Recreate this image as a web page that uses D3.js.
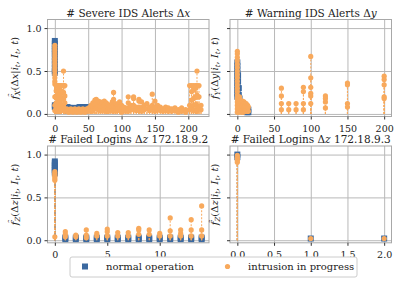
<!DOCTYPE html>
<html>
<head>
<meta charset="utf-8">
<script src="https://cdn.jsdelivr.net/npm/d3@7"></script>
<style>
  body { margin: 0; background: #fff; }
  text { font-family: "DejaVu Serif", "Liberation Serif", serif; fill: #222; }
</style>
</head>
<body>
<div id="chart"></div>
<script>

// ===============================
// Data (x value, list of probabilities seen over time)
// ===============================

const severeNormal = [
    [0, [0.85, 0.82, 0.79, 0.76, 0.73, 0.7, 0.66, 0.62, 0.58, 0.54, 0.5, 0.48, 0.1, 0.08]],
    [2, [0.1, 0.07]], [4, [0.09, 0.06]], [6, [0.08, 0.05]], [8, [0.08]], [10, [0.09, 0.06]],
    [13, [0.08]], [16, [0.07]], [19, [0.08]], [22, [0.07]], [25, [0.07]], [28, [0.07]],
    [31, [0.06]], [34, [0.07]], [37, [0.08]], [40, [0.08]], [43, [0.08]], [46, [0.08]], [49, [0.08]]
];

const severeIntrusion = [
    [0, [0.8, 0.77, 0.74, 0.71, 0.68, 0.65, 0.62, 0.59, 0.56, 0.53, 0.5, 0.46, 0.42, 0.38, 0.35, 0.2, 0.1, 0.04]],
    [2, [0.33, 0.27, 0.2, 0.13, 0.06]],
    [4, [0.33, 0.25, 0.18, 0.1, 0.04]],
    [6, [0.33, 0.29, 0.21, 0.14, 0.07]],
    [8, [0.33, 0.23, 0.15, 0.08, 0.03]],
    [10, [0.33, 0.27, 0.19, 0.11, 0.05]],
    [13, [0.5, 0.33, 0.25, 0.17, 0.09, 0.04]],
    [15, [0.33, 0.21, 0.13, 0.06]],
    [18, [0.06, 0.03]], [21, [0.05, 0.02]], [24, [0.06, 0.03]], [27, [0.05, 0.02]],
    [30, [0.06, 0.03]], [33, [0.05, 0.02]], [36, [0.06, 0.03]], [39, [0.05, 0.02]],
    [42, [0.06, 0.03]], [45, [0.05, 0.02]], [48, [0.06, 0.03]], [51, [0.07, 0.04]],
    [54, [0.1, 0.06, 0.03]], [57, [0.13, 0.08, 0.04]], [60, [0.16, 0.11, 0.06]],
    [62, [0.17, 0.12, 0.06]], [65, [0.15, 0.1, 0.05]], [68, [0.14, 0.09, 0.04]],
    [71, [0.13, 0.08, 0.04]], [74, [0.15, 0.1, 0.05]], [77, [0.13, 0.07, 0.03]],
    [80, [0.11, 0.06, 0.03]], [83, [0.09, 0.05]], [86, [0.14, 0.08, 0.04]],
    [88, [0.25, 0.17, 0.1, 0.05]], [91, [0.12, 0.06, 0.03]], [94, [0.1, 0.05]],
    [97, [0.14, 0.08, 0.04]], [100, [0.1, 0.05, 0.02]], [103, [0.08, 0.04]],
    [106, [0.07, 0.03]], [110, [0.2, 0.13, 0.07, 0.03]], [114, [0.1, 0.05]],
    [118, [0.2, 0.18, 0.1, 0.05]], [122, [0.08, 0.04]], [126, [0.17, 0.15, 0.08, 0.04]],
    [130, [0.14, 0.07, 0.03]], [134, [0.1, 0.05]], [138, [0.12, 0.06]],
    [142, [0.08, 0.04]], [146, [0.23, 0.1, 0.05]], [150, [0.15, 0.08, 0.03]],
    [154, [0.1, 0.05]], [158, [0.08, 0.04]], [162, [0.06, 0.03]], [166, [0.08, 0.04]],
    [170, [0.07, 0.03]], [175, [0.06, 0.03]], [180, [0.07, 0.04]], [185, [0.05, 0.02]],
    [190, [0.07, 0.03]], [196, [0.05, 0.02]], [202, [0.33, 0.1, 0.05]],
    [205, [0.33, 0.26, 0.16, 0.08]], [208, [0.33, 0.28, 0.18, 0.1, 0.04]],
    [211, [0.33, 0.3, 0.2, 0.11, 0.05]], [213, [0.5, 0.33, 0.22, 0.1, 0.04]],
    [216, [0.33, 0.2, 0.08]], [219, [0.1, 0.05]]
];

const warningNormal = [
    [0, [0.6, 0.56, 0.52, 0.48, 0.44, 0.4, 0.36, 0.32, 0.28, 0.24, 0.2]],
    [1, [0.45, 0.38, 0.3, 0.22]],
    [2, [0.3, 0.22, 0.15, 0.1]],
    [3, [0.18, 0.12, 0.06]],
    [5, [0.12, 0.06]], [7, [0.1, 0.05]], [9, [0.08, 0.03]],
    [11, [0.07, 0.03]], [13, [0.06, 0.02]], [15, [0.05, 0.02]]
];

const warningIntrusion = [
    [0, [0.73, 0.7, 0.66, 0.62, 0.58, 0.54, 0.5, 0.46, 0.42, 0.38, 0.34, 0.3, 0.26, 0.22, 0.18, 0.14, 0.1, 0.06, 0.02]],
    [1, [0.2, 0.14, 0.08, 0.03]], [2, [0.18, 0.12, 0.06, 0.02]], [3, [0.2, 0.15, 0.1, 0.05]],
    [4, [0.16, 0.1, 0.04]], [5, [0.14, 0.08, 0.03]], [6, [0.13, 0.07, 0.02]],
    [7, [0.15, 0.09, 0.04]], [8, [0.12, 0.06, 0.02]], [9, [0.14, 0.08, 0.03]],
    [10, [0.12, 0.06]], [11, [0.1, 0.05]], [12, [0.12, 0.06]], [13, [0.09, 0.04]],
    [14, [0.1, 0.05]], [15, [0.08, 0.03]],
    [60, [0.3, 0.21, 0.12, 0.05]],
    [70, [0.12, 0.05]],
    [80, [0.12, 0.05]],
    [90, [0.31, 0.26, 0.12, 0.05]],
    [100, [0.67, 0.42, 0.31, 0.24, 0.21, 0.12]],
    [120, [0.21, 0.18, 0.14, 0.07]],
    [150, [0.36, 0.34, 0.12, 0.08]],
    [200, [0.44, 0.4, 0.34, 0.2, 0.18]]
];

const logins2Normal = [
    [0, [0.92, 0.9, 0.88, 0.86, 0.84, 0.82, 0.8, 0.78]],
    [1, [0.03, 0.01]], [2, [0.03, 0.01]], [3, [0.03, 0.01]], [4, [0.03, 0.01]],
    [5, [0.03, 0.01]], [6, [0.03, 0.01]], [7, [0.03, 0.01]], [8, [0.03, 0.01]],
    [9, [0.03, 0.01]], [10, [0.03, 0.01]], [11, [0.03, 0.01]], [12, [0.03, 0.01]],
    [13, [0.03, 0.01]], [14, [0.03, 0.01]]
];

const logins2Intrusion = [
    [0, [0.8, 0.78, 0.76, 0.74, 0.72, 0.7, 0.04]],
    [1, [0.1, 0.07, 0.04]], [2, [0.06, 0.04]], [3, [0.12, 0.06, 0.03]],
    [4, [0.08, 0.05]], [5, [0.13, 0.1, 0.05]], [6, [0.09, 0.05]],
    [7, [0.09, 0.05]], [8, [0.14, 0.12, 0.07]], [9, [0.12, 0.07]],
    [10, [0.08, 0.05]], [11, [0.26, 0.11, 0.05]], [12, [0.12, 0.08, 0.05]],
    [13, [0.24, 0.12, 0.05]], [14, [0.4, 0.12, 0.05]]
];

const logins3Normal = [
    [0, [1.0, 0.97]], [1, [0.02]], [2, [0.02]]
];

const logins3Intrusion = [
    [0, [0.99, 0.97, 0.95, 0.93, 0.91]], [1, [0.02]], [2, [0.02]]
];

const severeTicks = [0, 50, 100, 150, 200];
const warningTicks = [0, 50, 100, 150, 200];
const logins2Ticks = [0, 5, 10];
const logins3Ticks = [0, 0.5, 1.0, 1.5, 2.0];
const yTicks = [0, 0.5, 1.0];

const legendLabels = ["normal operation", "intrusion in progress"];

// ===============================
// Layout
// ===============================

const width = 402;
const height = 284;
const blue = "#3b69a0";
const orange = "#f8a95c";

const colLeft = [47.5, 209];
const colRight = [230, 391.5];
const rowTop = [116.5, 19.5];
const rowBottom = [242.8, 146];
const yDomain = [-0.03, 1.1];

const svg = d3.select("#chart")
    .append("svg")
    .attr("width", width)
    .attr("height", height);

const panels = [
    { title: ["# Severe IDS Alerts Δ", "x", ""], sub: "X", v: "x",
      xDomain: [-11, 231], xRange: colLeft, yRange: rowTop, ticks: severeTicks, fmt: d3.format("d"),
      normal: severeNormal, intrusion: severeIntrusion, yLabels: true },
    { title: ["# Warning IDS Alerts Δ", "y", ""], sub: "Y", v: "y",
      xDomain: [-10, 210], xRange: colRight, yRange: rowTop, ticks: warningTicks, fmt: d3.format("d"),
      normal: warningNormal, intrusion: warningIntrusion, yLabels: false },
    { title: ["# Failed Logins Δ", "z", " 172.18.9.2"], sub: "Z", v: "z",
      xDomain: [-0.7, 14.7], xRange: colLeft, yRange: rowBottom, ticks: logins2Ticks, fmt: d3.format("d"),
      normal: logins2Normal, intrusion: logins2Intrusion, yLabels: true },
    { title: ["# Failed Logins Δ", "z", " 172.18.9.3"], sub: "Z", v: "z",
      xDomain: [-0.1, 2.1], xRange: colRight, yRange: rowBottom, ticks: logins3Ticks, fmt: d3.format(".1f"),
      normal: logins3Normal, intrusion: logins3Intrusion, yLabels: false }
];

const flatten = series => series.flatMap(([xv, ys]) => ys.map(yv => ({ x: xv, y: yv })));

const drawPanel = p => {

    const x = d3.scaleLinear().domain(p.xDomain).range(p.xRange);
    const y = d3.scaleLinear().domain(yDomain).range(p.yRange);
    const [x0, x1] = p.xRange;
    const [y0, y1] = p.yRange;

    const g = svg.append("g");

    // grid
    g.append("g")
        .attr("transform", `translate(0,${y0})`)
        .call(d3.axisBottom(x).tickValues(p.ticks).tickSize(-(y0 - y1)).tickFormat(""))
        .call(s => s.select(".domain").remove())
        .selectAll("line").attr("stroke", "#b8b8b8").attr("stroke-width", 1);

    g.append("g")
        .attr("transform", `translate(${x0},0)`)
        .call(d3.axisLeft(y).tickValues(yTicks).tickSize(-(x1 - x0)).tickFormat(""))
        .call(s => s.select(".domain").remove())
        .selectAll("line").attr("stroke", "#b8b8b8").attr("stroke-width", 1);

    // stems + markers
    const clip = "clip-" + Math.round(x0) + "-" + Math.round(y1);
    svg.append("clipPath").attr("id", clip)
        .append("rect").attr("x", x0).attr("y", y1).attr("width", x1 - x0).attr("height", y0 - y1);

    const marks = g.append("g").attr("clip-path", `url(#${clip})`);

    const nPts = flatten(p.normal);
    const iPts = flatten(p.intrusion);

    marks.selectAll(".nstem").data(nPts).join("line")
        .attr("x1", d => x(d.x)).attr("x2", d => x(d.x))
        .attr("y1", y(0)).attr("y2", d => y(d.y))
        .attr("stroke", blue).attr("stroke-width", 1).attr("stroke-dasharray", "2,1.5");

    marks.selectAll(".nmark").data(nPts).join("rect")
        .attr("x", d => x(d.x) - 3).attr("y", d => y(d.y) - 3)
        .attr("width", 6).attr("height", 6)
        .attr("fill", blue);

    marks.selectAll(".istem").data(iPts).join("line")
        .attr("x1", d => x(d.x)).attr("x2", d => x(d.x))
        .attr("y1", y(0)).attr("y2", d => y(d.y))
        .attr("stroke", orange).attr("stroke-width", 1).attr("stroke-dasharray", "2,1.5");

    marks.selectAll(".imark").data(iPts).join("circle")
        .attr("cx", d => x(d.x)).attr("cy", d => y(d.y))
        .attr("r", 2.6)
        .attr("fill", orange);

    // frame
    g.append("rect")
        .attr("x", x0).attr("y", y1)
        .attr("width", x1 - x0).attr("height", y0 - y1)
        .attr("fill", "none").attr("stroke", "#a8a8a8").attr("stroke-width", 1);

    // x axis ticks
    const xa = g.append("g")
        .attr("transform", `translate(0,${y0})`)
        .call(d3.axisBottom(x).tickValues(p.ticks).tickSize(3).tickSizeOuter(0).tickFormat(p.fmt));
    xa.select(".domain").remove();
    xa.selectAll("line").attr("stroke", "#333");
    xa.selectAll("text").attr("font-size", 9.5).attr("fill", "#222").attr("dy", "0.95em");

    // y axis ticks
    const ya = g.append("g")
        .attr("transform", `translate(${x0},0)`)
        .call(d3.axisLeft(y).tickValues(yTicks).tickSize(3).tickSizeOuter(0)
            .tickFormat(p.yLabels ? d3.format(".1f") : ""));
    ya.select(".domain").remove();
    ya.selectAll("line").attr("stroke", "#333");
    ya.selectAll("text").attr("font-size", 9.5).attr("fill", "#222");

    // title
    const t = g.append("text")
        .attr("x", (x0 + x1) / 2).attr("y", y1 - 3)
        .attr("text-anchor", "middle").attr("font-size", 10.5);
    t.append("tspan").text(p.title[0]);
    t.append("tspan").attr("font-style", "italic").text(p.title[1]);
    t.append("tspan").text(p.title[2]);

    // y label
    const lx = x0 - (p.yLabels ? 30 : 12);
    const ly = (y0 + y1) / 2;
    const lab = g.append("text")
        .attr("transform", `translate(${lx},${ly}) rotate(-90)`)
        .attr("text-anchor", "middle").attr("font-size", 10);
    lab.append("tspan").attr("font-style", "italic").text("f\u0302");
    lab.append("tspan").attr("font-style", "italic").attr("font-size", 7).attr("dy", 2).text(p.sub);
    lab.append("tspan").attr("dy", -2).text("(Δ");
    lab.append("tspan").attr("font-style", "italic").text(p.v);
    lab.append("tspan").text("|");
    lab.append("tspan").attr("font-style", "italic").text("i");
    lab.append("tspan").attr("font-style", "italic").attr("font-size", 7).attr("dy", 2).text("t");
    lab.append("tspan").attr("dy", -2).text(", ");
    lab.append("tspan").attr("font-style", "italic").text("I");
    lab.append("tspan").attr("font-style", "italic").attr("font-size", 7).attr("dy", 2).text("t");
    lab.append("tspan").attr("dy", -2).text(", ");
    lab.append("tspan").attr("font-style", "italic").text("t");
    lab.append("tspan").text(")");
};

panels.forEach(drawPanel);

// ===============================
// Legend
// ===============================

const legend = svg.append("g");

legend.append("rect")
    .attr("x", 70).attr("y", 257)
    .attr("width", 287).attr("height", 20)
    .attr("rx", 2)
    .attr("fill", "#fff").attr("stroke", "#cccccc");

legend.append("rect")
    .attr("x", 82).attr("y", 263.5)
    .attr("width", 6).attr("height", 6)
    .attr("fill", blue);

legend.append("circle")
    .attr("cx", 227.5).attr("cy", 266.5)
    .attr("r", 2.6)
    .attr("fill", orange);

legend.append("text")
    .attr("x", 106).attr("y", 270)
    .attr("font-size", 10)
    .text(legendLabels[0]);

legend.append("text")
    .attr("x", 248).attr("y", 270)
    .attr("font-size", 10)
    .text(legendLabels[1]);

</script>
</body>
</html>
